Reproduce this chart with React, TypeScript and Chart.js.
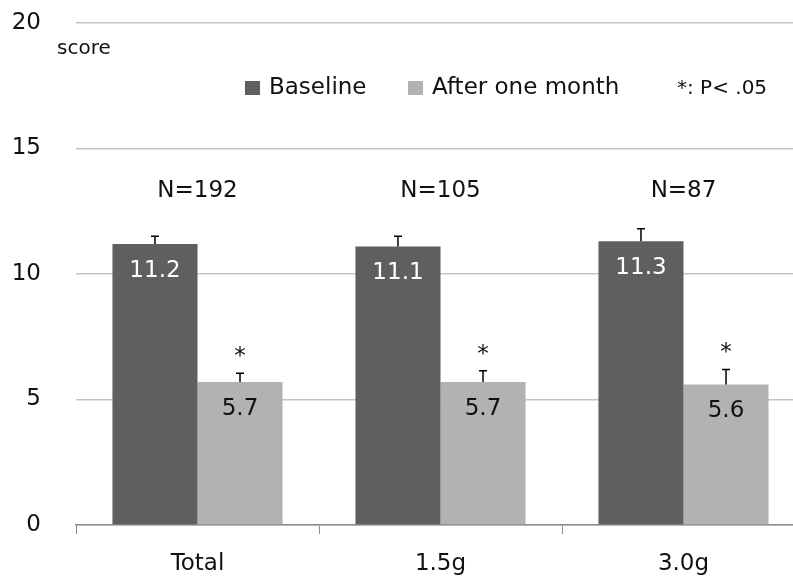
import React, { useEffect, useRef } from "react";
import { Chart, registerables } from "chart.js";

Chart.register(...registerables);

const categories = ["Total", "1.5g", "3.0g"];
const groupN = ["N=192", "N=105", "N=87"];
const baselineValues = [11.2, 11.1, 11.3];
const baselineErr = [0.3, 0.4, 0.5];
const afterValues = [5.7, 5.7, 5.6];
const afterErr = [0.35, 0.45, 0.6];
const significant = [true, true, true];
const seriesNames = ["Baseline", "After one month"];
const yTicks = [0, 5, 10, 15, 20];

const DARK = "#5f5f5f";
const LIGHT = "#b2b2b2";
const FONT = "'DejaVu Sans', sans-serif";

const overlayPlugin = {
  id: "overlay",
  afterDatasetsDraw(chart: any) {
    const ctx = chart.ctx;
    const y = chart.scales.y;
    const x = chart.scales.x;
    const errs = [baselineErr, afterErr];
    const vals = [baselineValues, afterValues];
    ctx.save();
    for (let d = 0; d < 2; d++) {
      const meta = chart.getDatasetMeta(d);
      meta.data.forEach((bar: any, i: number) => {
        const top = y.getPixelForValue(vals[d][i]);
        const cap = y.getPixelForValue(vals[d][i] + errs[d][i]);
        ctx.strokeStyle = "#000";
        ctx.lineWidth = 1.5;
        ctx.beginPath();
        ctx.moveTo(bar.x, top);
        ctx.lineTo(bar.x, cap);
        ctx.moveTo(bar.x - 4, cap);
        ctx.lineTo(bar.x + 4, cap);
        ctx.stroke();
        ctx.font = `23px ${FONT}`;
        ctx.textAlign = "center";
        ctx.textBaseline = "middle";
        ctx.fillStyle = d === 0 ? "#ffffff" : "#111111";
        ctx.fillText(vals[d][i].toFixed(1), bar.x, top + 27);
        if (d === 1 && significant[i]) {
          ctx.fillStyle = "#111111";
          ctx.font = `23px ${FONT}`;
          ctx.fillText("*", bar.x, cap - 16);
        }
      });
    }
    categories.forEach((_, i) => {
      const cx = x.getPixelForValue(i);
      ctx.font = `23px ${FONT}`;
      ctx.fillStyle = "#111111";
      ctx.textAlign = "center";
      ctx.textBaseline = "middle";
      ctx.fillText(groupN[i], cx, 191);
    });
    // score label
    ctx.font = `20px ${FONT}`;
    ctx.textAlign = "left";
    ctx.textBaseline = "middle";
    ctx.fillStyle = "#111111";
    ctx.fillText("score", 57, 49);
    // legend
    ctx.fillStyle = DARK;
    ctx.fillRect(245, 81, 15, 14);
    ctx.fillStyle = LIGHT;
    ctx.fillRect(408, 81, 15, 14);
    ctx.fillStyle = "#111111";
    ctx.font = `23px ${FONT}`;
    ctx.fillText(seriesNames[0], 269, 88);
    ctx.fillText(seriesNames[1], 432, 88);
    ctx.font = `20px ${FONT}`;
    ctx.fillText("*: P< .05", 677, 89);
    ctx.restore();
  },
};

export default function App() {
  const ref = useRef<HTMLCanvasElement>(null);
  useEffect(() => {
    if (!ref.current) return;
    const chart = new Chart(ref.current, {
      type: "bar",
      data: {
        labels: categories,
        datasets: [
          { label: seriesNames[0], data: baselineValues, backgroundColor: DARK },
          { label: seriesNames[1], data: afterValues, backgroundColor: LIGHT },
        ],
      },
      options: {
        responsive: false,
        animation: false,
        devicePixelRatio: 1,
        layout: { padding: { top: 23, left: 0, right: 0, bottom: 0 } },
        plugins: { legend: { display: false }, tooltip: { enabled: false } },
        datasets: { bar: { categoryPercentage: 0.7, barPercentage: 1.0 } },
        scales: {
          x: {
            grid: {
              offset: true,
              drawOnChartArea: false,
              drawTicks: true,
              tickLength: 9,
              color: "#8c8c8c",
            },
            border: { display: true, color: "#8c8c8c", width: 1.5 },
            ticks: {
              color: "#111111",
              font: { family: FONT, size: 23 },
              padding: 16,
            },
            afterFit: (s: any) => {
              s.height = 53;
              s.paddingLeft = 0;
              s.paddingRight = 0;
            },
          },
          y: {
            min: 0,
            max: 20,
            afterBuildTicks: (s: any) => {
              s.ticks = yTicks.map((v) => ({ value: v }));
            },
            grid: { color: "#c4c4c4", drawTicks: false, lineWidth: 1.5 },
            border: { display: false },
            ticks: {
              color: "#111111",
              font: { family: FONT, size: 23 },
              padding: 35,
            },
            afterFit: (s: any) => {
              s.width = 76;
              s.paddingTop = 0;
              s.paddingBottom = 0;
            },
          },
        },
      },
      plugins: [overlayPlugin],
    });
    return () => chart.destroy();
  }, []);
  return (
    <div
      style={{
        position: "fixed",
        left: 0,
        top: 0,
        width: 793,
        height: 578,
        overflow: "hidden",
        background: "#fff",
      }}
    >
      <canvas ref={ref} width={805} height={578} />
    </div>
  );
}
